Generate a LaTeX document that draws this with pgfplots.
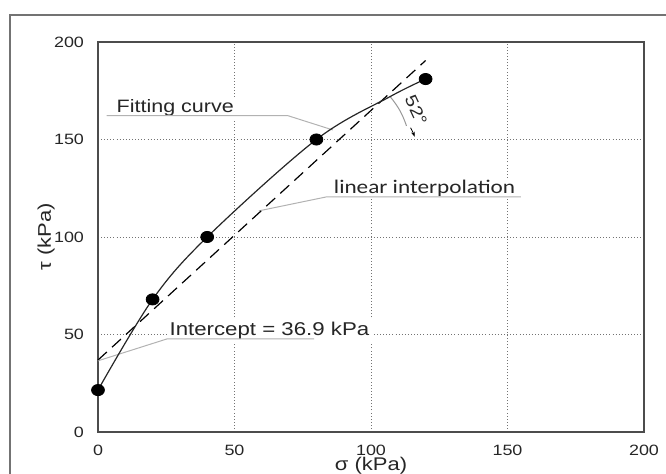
\documentclass[border=0pt]{standalone}
\usepackage{fontspec}
\setmainfont{Liberation Sans}[FakeStretch=1.2]
\newfontfamily\calfont{Carlito}[FakeStretch=1.2]
\usepackage{pgfplots}
\pgfplotsset{compat=1.18}
\usetikzlibrary{arrows.meta}
\begin{document}
\begin{tikzpicture}
\useasboundingbox (-49bp,-21bp) rectangle (284bp,216bp);
\begin{scope}[overlay]
\draw[black!55, line width=0.8bp] (-44bp,-60bp) |- (320bp,208.5bp);
\begin{axis}[
  at={(0,0)}, anchor=south west,
  width=273bp, height=195bp, scale only axis,
  xmin=0, xmax=200, ymin=0, ymax=200,
  xtick={0,50,...,200}, ytick={0,50,...,200},
  major tick length=0pt,
  grid=major,
  major grid style={black!55, line width=0.4bp, dash pattern=on 0.45bp off 1.1bp},
  axis line style={draw=black!70, line width=0.7bp},
  /pgf/number format/assume math mode=true,
  ticklabel style={font=\fontsize{7.5}{9}\selectfont, text=black!85},
  xticklabel style={yshift=-3bp},
  yticklabel style={xshift=-3.5bp},
  xlabel={σ (kPa)}, ylabel={τ (kPa)},
  label style={font=\fontsize{9.2}{11}\selectfont, text=black!85},
  xlabel style={at={(axis description cs:0.5,-0.087)}, anchor=center},
  ylabel style={at={(axis description cs:-0.095,0.5)}, anchor=center},
  clip=false,
]
% annotations (white boxes hide grid)
\node[fill=white, inner sep=1.2bp, anchor=base west, font=\fontsize{9}{11}\selectfont, text=black!85] at (axis cs:5.8,163.9) {Fitting curve};
\draw[black!30, line width=0.5bp] (axis cs:3.2,162.2) -- (axis cs:69.6,162.2) -- (axis cs:86,154.9);
\node[fill=white, inner sep=1.2bp, anchor=base west, font=\calfont\fontsize{9.7}{11}\selectfont, text=black!85] at (axis cs:85.4,122.2) {linear interpolation};
\draw[black!30, line width=0.5bp] (axis cs:154.9,120.6) -- (axis cs:83.8,120.6) -- (axis cs:58.9,113.4);
\node[fill=white, inner sep=1.2bp, anchor=base west, font=\fontsize{9.3}{11}\selectfont, text=black!85] at (axis cs:25.2,49.4) {Intercept = 36.9 kPa};
\draw[black!30, line width=0.5bp] (axis cs:79.2,47.7) -- (axis cs:25.2,47.7) -- (axis cs:0,36.5);
% angle label and arc
\node[inner sep=0.3bp, rotate=-65, font=\fontsize{8.5}{10}\selectfont, text=black!85] at (axis cs:116.5,165) {52°};
\draw[black!40, line width=0.5bp] (axis cs:107,172) to[bend left=10] (axis cs:113,157);
\draw[black, line width=0.4bp, -{Stealth[length=2.5bp,width=1.8bp]}] (axis cs:114.5,156) to[bend left=4] (axis cs:116,151.4);
% linear interpolation
\addplot[black, line width=0.6bp, dash pattern=on 6bp off 3.5bp] coordinates {(0,36.9) (120,190.5)};
% fitting curve
\addplot[black!85, line width=0.6bp, smooth, tension=0.55] coordinates {
(0,21.5) (20,68) (40,100) (80,150) (107,172) (120,181)};
% data points
\addplot[only marks, mark=*, mark size=2.8bp, mark options={fill=black, draw=black, xscale=1.15}] coordinates {
(0,21.5) (20,68) (40,100) (80,150) (120,181)};
\end{axis}
\end{scope}
\end{tikzpicture}
\end{document}
